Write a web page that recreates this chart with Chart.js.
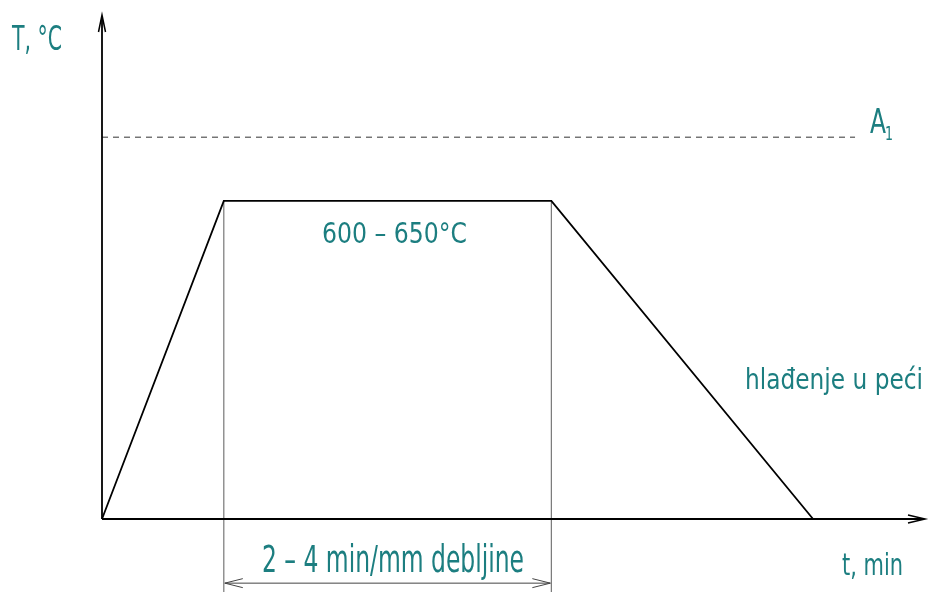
<!DOCTYPE html>
<html>
<head>
<meta charset="utf-8">
<script src="https://cdn.jsdelivr.net/npm/chart.js@4.4.1/dist/chart.umd.min.js"></script>
<style>
  html, body { margin: 0; padding: 0; background: #fff; }
  #wrap { width: 933px; height: 592px; }
</style>
</head>
<body>
<div id="wrap"><canvas id="chart"></canvas></div>
<script>
// heat treatment profile (time in arbitrary min units, temperature in °C)
const profileTimes = [0, 14.8, 54.6, 86.4];
const profileTemps = [0, 625, 625, 0];
const a1Times = [0, 91.5];
const a1Temps = [750, 750];
const holdTimes = [14.8, 54.6];
const guideTemps = [625, -145];
const dimTemp = -126;
const xMax = 100;
const yMax = 990;

const teal = '#1c7e80';
const font = '"DejaVu Sans Condensed", "DejaVu Sans", sans-serif';

const toPts = (xs, ys) => xs.map((x, i) => ({ x: x, y: ys[i] }));

const datasets = [
  {
    data: toPts(profileTimes, profileTemps),
    borderColor: '#000', borderWidth: 1.8
  },
  {
    data: toPts(a1Times, a1Temps),
    borderColor: '#333', borderWidth: 1, borderDash: [6, 5]
  }
];
holdTimes.forEach(t => {
  datasets.push({
    data: toPts([t, t], guideTemps),
    borderColor: '#777', borderWidth: 1.2
  });
});

function arrowHead(ctx, x, y, dx, dy, len, half) {
  // open arrow head pointing along (dx, dy)
  const bx = x - dx * len, by = y - dy * len;
  ctx.beginPath();
  ctx.moveTo(bx - dy * half, by + dx * half);
  ctx.lineTo(x, y);
  ctx.lineTo(bx + dy * half, by - dx * half);
  ctx.stroke();
}

function label(ctx, text, x, y, size, width) {
  ctx.font = size + 'px ' + font;
  ctx.fillText(text, x, y, width);
}

const drawingPlugin = {
  id: 'drawing',
  afterDatasetsDraw(chart) {
    const ctx = chart.ctx;
    const xs = chart.scales.x, ys = chart.scales.y;
    const x0 = xs.getPixelForValue(0), y0 = ys.getPixelForValue(0);
    const xEnd = xs.getPixelForValue(xMax), yTop = ys.getPixelForValue(yMax);
    ctx.save();

    // axes
    ctx.strokeStyle = '#000';
    ctx.lineWidth = 1.8;
    ctx.beginPath();
    ctx.moveTo(x0, y0); ctx.lineTo(x0, yTop + 2);
    ctx.moveTo(x0, y0); ctx.lineTo(xEnd - 2, y0);
    ctx.stroke();
    ctx.lineWidth = 1.5;
    arrowHead(ctx, x0, yTop, 0, -1, 17, 3.5);
    arrowHead(ctx, xEnd, y0, 1, 0, 17, 4);

    // dimension line
    const dx1 = xs.getPixelForValue(holdTimes[0]) + 1;
    const dx2 = xs.getPixelForValue(holdTimes[1]) - 1;
    const dy = ys.getPixelForValue(dimTemp);
    ctx.strokeStyle = '#444';
    ctx.lineWidth = 1;
    ctx.beginPath();
    ctx.moveTo(dx1, dy); ctx.lineTo(dx2, dy);
    ctx.stroke();
    arrowHead(ctx, dx1, dy, -1, 0, 18, 4.5);
    arrowHead(ctx, dx2, dy, 1, 0, 18, 4.5);

    // texts
    ctx.fillStyle = teal;
    ctx.textBaseline = 'alphabetic';
    ctx.textAlign = 'left';
    label(ctx, 'T, °C', 12, 50, 33, 50);
    label(ctx, 'A', 870, 133, 34, 16);
    label(ctx, '1', 885, 140, 20, 8);
    label(ctx, '600 – 650°C', 322, 243, 29, 145);
    label(ctx, 'hlađenje u peći', 745, 389, 29, 178);
    label(ctx, '2 – 4 min/mm debljine', 262, 572, 37, 262);
    label(ctx, 't, min', 842, 575, 31, 61);
    ctx.restore();
  }
};

new Chart(document.getElementById('chart'), {
  type: 'scatter',
  data: {
    datasets: datasets.map(d => Object.assign({
      showLine: true, pointRadius: 0, fill: false, tension: 0, clip: false
    }, d))
  },
  options: {
    responsive: true,
    maintainAspectRatio: false,
    animation: false,
    layout: { padding: { left: 102, right: 8, top: 15, bottom: 73 } },
    plugins: { legend: { display: false }, tooltip: { enabled: false } },
    scales: {
      x: { type: 'linear', min: 0, max: xMax, display: false },
      y: { type: 'linear', min: 0, max: yMax, display: false }
    }
  },
  plugins: [drawingPlugin]
});
</script>
</body>
</html>
